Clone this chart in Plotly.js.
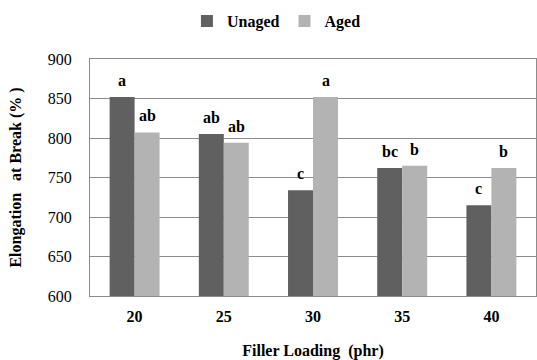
<!DOCTYPE html>
<html>
<head>
<script src="https://cdn.plot.ly/plotly-3.0.1.min.js"></script>
</head>
<body style="margin:0">
<div id="chart"></div>
<script>
const categories = ['20', '25', '30', '35', '40'];
const unaged = [852, 805, 734, 762, 715];
const aged = [807, 794, 852, 765, 762];
const unagedLetters = ['a', 'ab', 'c', 'bc', 'c'];
const agedLetters = ['ab', 'ab', 'a', 'b', 'b'];
const yTicks = [600, 650, 700, 750, 800, 850, 900];

function mkFont(s) { return {family: 'Liberation Serif', size: s, color: '#000'}; }

const traces = [
  {type: 'bar', name: '<b>Unaged</b>', x: categories, y: unaged, marker: {color: '#606060'}},
  {type: 'bar', name: '<b>Aged</b>', x: categories, y: aged, marker: {color: '#b3b3b3'}}
];

const annotations = [];
categories.forEach((c, i) => {
  annotations.push({x: i, y: unaged[i], text: '<b>' + unagedLetters[i] + '</b>', showarrow: false,
    xshift: -12.5, yanchor: 'bottom', yshift: 6, font: mkFont(16)});
  annotations.push({x: i, y: aged[i], text: '<b>' + agedLetters[i] + '</b>', showarrow: false,
    xshift: 12.5, yanchor: 'bottom', yshift: 6, font: mkFont(16)});
});

const layout = {
  width: 537, height: 360,
  margin: {l: 90, r: 1, t: 59, b: 64},
  paper_bgcolor: '#fff', plot_bgcolor: '#fff',
  barmode: 'group', bargap: 0.44, bargroupgap: 0,
  showlegend: true,
  legend: {orientation: 'h', x: 0.418, xanchor: 'center', y: 1.16, yanchor: 'middle',
    font: mkFont(16), itemwidth: 30, traceorder: 'normal'},
  xaxis: {type: 'category', range: [-0.5, 4.5], showline: true, linecolor: '#8c8c8c', linewidth: 1, mirror: true,
    ticks: '', tickfont: mkFont(16), showgrid: false, tickprefix: '<b>', ticksuffix: '</b>', ticklabelstandoff: 6,
    title: {text: '<b>Filler Loading\u00a0\u00a0(phr)</b>', font: mkFont(16), standoff: 22}},
  yaxis: {range: [600, 900], tickvals: yTicks, showline: true, linecolor: '#8c8c8c', linewidth: 1, mirror: true,
    gridcolor: '#8c8c8c', gridwidth: 1, ticks: '', tickfont: mkFont(16), zeroline: false,
    tickprefix: '<b>', ticksuffix: '</b>', ticklabelstandoff: 14,
    title: {text: '<b>Elongation\u00a0\u00a0\u00a0at Break (%\u00a0)</b>', font: mkFont(16), standoff: 22}},
  annotations: annotations
};

Plotly.newPlot('chart', traces, layout, {displayModeBar: false});
</script>
</body>
</html>
